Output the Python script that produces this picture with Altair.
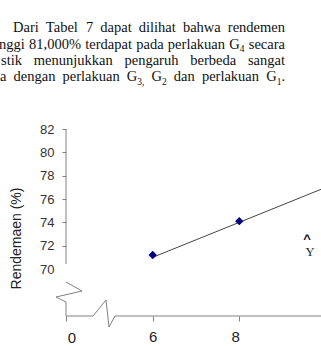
import altair as alt
import pandas as pd

# ---------------- chart values ----------------
doses = [6, 8]
rendemen = [71.2, 74.1]
trend_x = [6, 10]
trend_y = [71.0, 77.0]
y_ticks = [70, 72, 74, 76, 78, 80, 82]
x_ticks = [0, 6, 8]
y_title = "Rendemaen (%)"

# ---------------- paragraph text (words; _{..} = subscript) ----------------
para_lines = [
    ["Dari", "Tabel", "7", "dapat", "dilihat", "bahwa", "rendemen"],
    ["nggi", "81,000%", "terdapat", "pada", "perlakuan", "G_{4}", "secara"],
    ["stik", "menunjukkan", "pengaruh", "berbeda", "sangat"],
    ["a", "dengan", "perlakuan", "G_{3,}", "G_{2}", "dan", "perlakuan", "G_{1}."],
]

# ---------------- layout (page pixels) ----------------
LEFT = 66          # y axis position
W = 321 - LEFT
H = 316            # x axis position
BOTTOM = 30
line_geom = [(13, 285, 32.3), (-1, 285, 48.7), (1, 285, 65.0), (0, 285, 81.3)]
FS, FS_SUB, SUB_DY = 14.5, 9.5, 3.5

# Times-compatible advance widths (per 1000 em)
TW = {' ': 250, 'a': 444, 'b': 500, 'c': 444, 'd': 500, 'e': 444, 'f': 333, 'g': 500,
      'h': 500, 'i': 278, 'j': 278, 'k': 500, 'l': 278, 'm': 778, 'n': 500, 'o': 500,
      'p': 500, 'q': 500, 'r': 333, 's': 389, 't': 278, 'u': 500, 'v': 500, 'w': 722,
      'x': 500, 'y': 500, 'z': 444, 'D': 722, 'T': 611, 'G': 722, ',': 250, '.': 250,
      '%': 833}


def tw(s, fs):
    return sum(TW.get(c, 500) for c in s) / 1000.0 * fs


def parse(w):
    segs = []
    while w:
        if "_{" in w:
            i = w.index("_{")
            if i > 0:
                segs.append((w[:i], False))
            j = w.index("}", i)
            segs.append((w[i + 2:j], True))
            w = w[j + 1:]
        else:
            segs.append((w, False))
            w = ""
    return segs


rows = []
for words, (lx, rx, by) in zip(para_lines, line_geom):
    parsed = [parse(w) for w in words]
    widths = [sum(tw(t, FS_SUB if s else FS) for t, s in p) for p in parsed]
    gap = (rx - lx - sum(widths)) / max(len(words) - 1, 1)
    x = lx
    for p, wd in zip(parsed, widths):
        cx = x
        for t, s in p:
            fs = FS_SUB if s else FS
            rows.append({"px": cx - LEFT, "py": by + (SUB_DY if s else 0), "t": t, "fs": fs})
            cx += tw(t, fs)
        x += wd + gap
para_df = pd.DataFrame(rows)

# axis line with break marks (page pixels -> view pixels)
xaxis_pts = [(66, 316), (93, 316), (106, 300), (109, 327), (115, 316), (330, 316)]
yaxis_pts = [(66, 282), (82, 291), (56, 297), (66, 302), (66, 316)]
xa_df = pd.DataFrame([{"px": a - LEFT, "py": b, "i": k} for k, (a, b) in enumerate(xaxis_pts)])
ya_df = pd.DataFrame([{"px": a - LEFT, "py": b, "i": k} for k, (a, b) in enumerate(yaxis_pts)])

pts_df = pd.DataFrame({"x": doses, "y": rendemen})
tr_df = pd.DataFrame({"x": trend_x, "y": trend_y})

xs = alt.Scale(domain=x_ticks, range=[0, 86.7, 173.3], nice=False, zero=False)
ys = alt.Scale(domain=[70, 82], range=[269, 129], nice=False, zero=False)

xaxis = alt.Axis(values=x_ticks, domain=False, grid=False, tickSize=5, tickColor="#808080",
                 labelExpr="datum.value == 0 ? '' : datum.label", labelFontSize=15,
                 labelFont="Liberation Sans", labelColor="#222", labelPadding=8, title=None)
yaxis = alt.Axis(values=y_ticks, domain=False, grid=False, tickSize=4, tickColor="#808080",
                 tickOpacity={"condition": {"test": "datum.value == 70", "value": 0}, "value": 1},
                 labelFontSize=13, labelFont="Liberation Sans", labelColor="#333", labelPadding=8,
                 title=y_title, titleFont="Liberation Sans", titleFontSize=14,
                 titleFontWeight="normal", titleColor="#222", titleX=-50, titleY=238,
                 titleAlign="center", titleBaseline="middle")

X = alt.X("x:Q", scale=xs, axis=xaxis)
Y = alt.Y("y:Q", scale=ys, axis=yaxis)

trend = alt.Chart(tr_df).mark_line(color="#444444", strokeWidth=1).encode(x=X, y=Y)
points = alt.Chart(pts_df).mark_point(shape="diamond", filled=True, size=70, color="#000080",
                                      opacity=1).encode(x=X, y=Y)

PX = alt.X("px:Q", scale=None, axis=None)
PY = alt.Y("py:Q", scale=None, axis=None)

x_line = alt.Chart(xa_df).mark_line(color="#808080", strokeWidth=1).encode(x=PX, y=PY, order="i:Q")
y_break = alt.Chart(ya_df).mark_line(color="#808080", strokeWidth=1).encode(x=PX, y=PY, order="i:Q")
y_line = alt.Chart(pd.DataFrame({"a": [0]})).mark_rule(color="#808080", strokeWidth=1).encode(
    x=alt.value(0), y=alt.value(129), y2=alt.value(264))

zero_lbl = alt.Chart(pd.DataFrame({"x": [0], "t": ["0"]})).mark_text(
    font="Liberation Sans", fontSize=15, color="#222", dx=6, baseline="middle").encode(
    x=X, y=alt.value(338), text="t:N")

para = alt.Chart(para_df).mark_text(font="Liberation Serif", color="#111111", align="left",
                                    baseline="alphabetic").encode(
    x=PX, y=PY, text="t:N", size=alt.Size("fs:Q", scale=None, legend=None))

hat = alt.Chart(pd.DataFrame({"t": ["^"]})).mark_text(
    font="Liberation Sans", fontWeight="bold", fontSize=13, color="#111", align="center",
    baseline="alphabetic").encode(x=alt.value(307 - LEFT), y=alt.value(242.5), text="t:N")
ylab = alt.Chart(pd.DataFrame({"t": ["Y"]})).mark_text(
    font="Liberation Serif", fontSize=12.5, color="#222", align="center",
    baseline="alphabetic").encode(x=alt.value(310 - LEFT), y=alt.value(255.5), text="t:N")

chart = alt.layer(x_line, y_break, y_line, trend, points, zero_lbl, para, hat, ylab).properties(
    width=W, height=H, autosize="none",
    padding={"left": LEFT, "top": 0, "right": 0, "bottom": BOTTOM}
).configure_view(stroke=None)

chart.save("out.html", embed_options={"renderer": "svg", "actions": False})
